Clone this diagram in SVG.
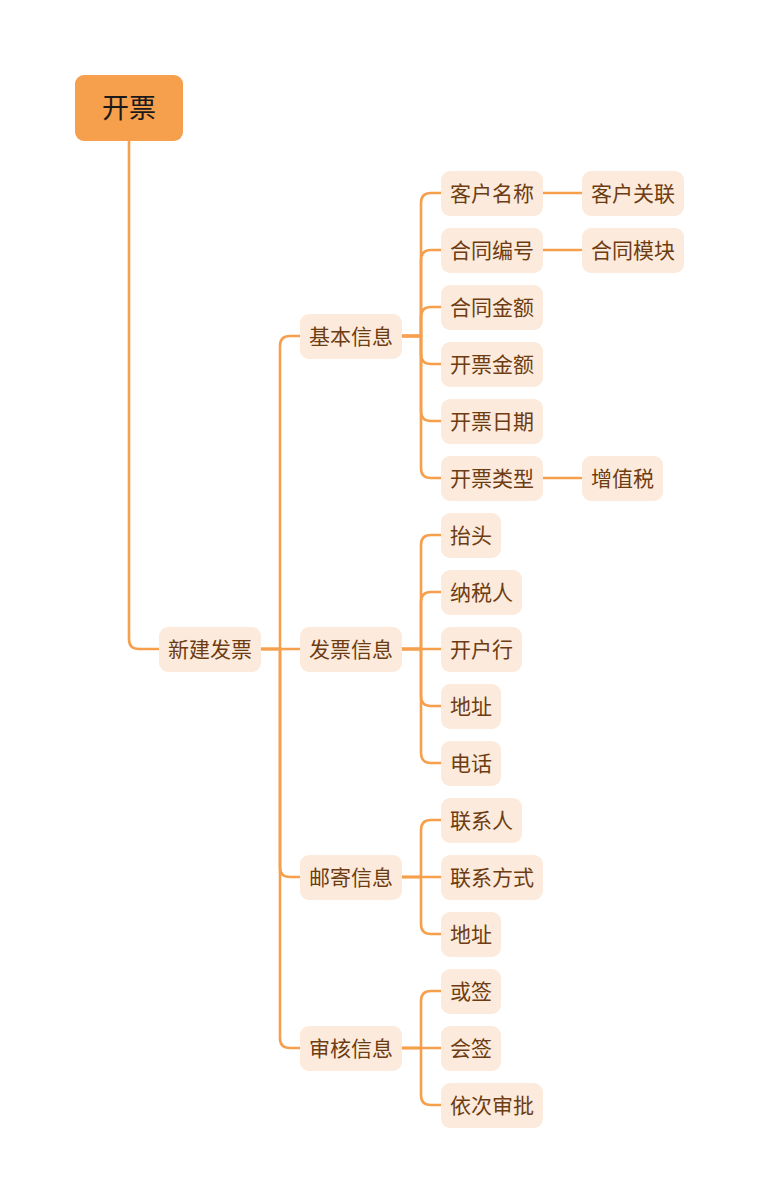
<svg xmlns="http://www.w3.org/2000/svg" width="759" height="1203" viewBox="0 0 759 1203">
<style>
.c{fill:none;stroke:#F69F4C;stroke-width:2.6;stroke-linecap:round;stroke-linejoin:round}
.n rect{fill:#FCEBDC}
.n text{fill:#6E3C12;font-family:"Noto Sans CJK SC","Noto Sans",sans-serif;font-size:21px;text-anchor:middle;dominant-baseline:central}
.r rect{fill:#F69F4C}
.r text{fill:#1A1A1A;font-family:"Noto Sans CJK SC","Noto Sans",sans-serif;font-size:27px;text-anchor:middle;dominant-baseline:central}
</style>
<rect width="759" height="1203" fill="#FFFFFF"/>
<g id="connectors">
<path class="c" d="M129,141 V639 Q129,649 139,649 H159"/>
<path class="c" d="M261,649 H280 V346 Q280,336 290,336 H300"/>
<path class="c" d="M261,649 H300"/>
<path class="c" d="M261,649 H280 V867 Q280,877 290,877 H300"/>
<path class="c" d="M261,649 H280 V1038 Q280,1048 290,1048 H300"/>
<path class="c" d="M402,336 H421 V203 Q421,193 431,193 H441"/>
<path class="c" d="M402,336 H421 V260 Q421,250 431,250 H441"/>
<path class="c" d="M402,336 H421 V317 Q421,307 431,307 H441"/>
<path class="c" d="M402,336 H421 V354 Q421,364 431,364 H441"/>
<path class="c" d="M402,336 H421 V411 Q421,421 431,421 H441"/>
<path class="c" d="M402,336 H421 V468 Q421,478 431,478 H441"/>
<path class="c" d="M543,193 H582"/>
<path class="c" d="M543,250 H582"/>
<path class="c" d="M543,478 H582"/>
<path class="c" d="M402,649 H421 V545 Q421,535 431,535 H441"/>
<path class="c" d="M402,649 H421 V602 Q421,592 431,592 H441"/>
<path class="c" d="M402,649 H441"/>
<path class="c" d="M402,649 H421 V696 Q421,706 431,706 H441"/>
<path class="c" d="M402,649 H421 V753 Q421,763 431,763 H441"/>
<path class="c" d="M402,877 H421 V830 Q421,820 431,820 H441"/>
<path class="c" d="M402,877 H441"/>
<path class="c" d="M402,877 H421 V924 Q421,934 431,934 H441"/>
<path class="c" d="M402,1048 H421 V1001 Q421,991 431,991 H441"/>
<path class="c" d="M402,1048 H441"/>
<path class="c" d="M402,1048 H421 V1095 Q421,1105 431,1105 H441"/>
</g>
<g id="root" class="r"><rect x="75" y="75" width="108" height="66" rx="9"/><text x="129" y="106">开票</text></g>
<g id="n-xjfp" class="n"><rect x="159" y="627" width="102" height="45" rx="9"/><text x="210" y="647.5">新建发票</text></g>
<g id="n-jbxx" class="n"><rect x="300" y="314" width="102" height="45" rx="9"/><text x="351" y="334.5">基本信息</text></g>
<g id="n-fpxx" class="n"><rect x="300" y="627" width="102" height="45" rx="9"/><text x="351" y="647.5">发票信息</text></g>
<g id="n-yjxx" class="n"><rect x="300" y="855" width="102" height="45" rx="9"/><text x="351" y="875.5">邮寄信息</text></g>
<g id="n-shxx" class="n"><rect x="300" y="1026" width="102" height="45" rx="9"/><text x="351" y="1046.5">审核信息</text></g>
<g id="n-khmc" class="n"><rect x="441" y="171" width="102" height="45" rx="9"/><text x="492" y="191.5">客户名称</text></g>
<g id="n-htbh" class="n"><rect x="441" y="228" width="102" height="45" rx="9"/><text x="492" y="248.5">合同编号</text></g>
<g id="n-htje" class="n"><rect x="441" y="285" width="102" height="45" rx="9"/><text x="492" y="305.5">合同金额</text></g>
<g id="n-kpje" class="n"><rect x="441" y="342" width="102" height="45" rx="9"/><text x="492" y="362.5">开票金额</text></g>
<g id="n-kprq" class="n"><rect x="441" y="399" width="102" height="45" rx="9"/><text x="492" y="419.5">开票日期</text></g>
<g id="n-kplx" class="n"><rect x="441" y="456" width="102" height="45" rx="9"/><text x="492" y="476.5">开票类型</text></g>
<g id="n-khgl" class="n"><rect x="582" y="171" width="102" height="45" rx="9"/><text x="633" y="191.5">客户关联</text></g>
<g id="n-htmk" class="n"><rect x="582" y="228" width="102" height="45" rx="9"/><text x="633" y="248.5">合同模块</text></g>
<g id="n-zzs" class="n"><rect x="582" y="456" width="81" height="45" rx="9"/><text x="622.5" y="476.5">增值税</text></g>
<g id="n-tt" class="n"><rect x="441" y="513" width="60" height="45" rx="9"/><text x="471" y="533.5">抬头</text></g>
<g id="n-nsr" class="n"><rect x="441" y="570" width="81" height="45" rx="9"/><text x="481.5" y="590.5">纳税人</text></g>
<g id="n-khh" class="n"><rect x="441" y="627" width="81" height="45" rx="9"/><text x="481.5" y="647.5">开户行</text></g>
<g id="n-dz1" class="n"><rect x="441" y="684" width="60" height="45" rx="9"/><text x="471" y="704.5">地址</text></g>
<g id="n-dh" class="n"><rect x="441" y="741" width="60" height="45" rx="9"/><text x="471" y="761.5">电话</text></g>
<g id="n-lxr" class="n"><rect x="441" y="798" width="81" height="45" rx="9"/><text x="481.5" y="818.5">联系人</text></g>
<g id="n-lxfs" class="n"><rect x="441" y="855" width="102" height="45" rx="9"/><text x="492" y="875.5">联系方式</text></g>
<g id="n-dz2" class="n"><rect x="441" y="912" width="60" height="45" rx="9"/><text x="471" y="932.5">地址</text></g>
<g id="n-hq" class="n"><rect x="441" y="969" width="60" height="45" rx="9"/><text x="471" y="989.5">或签</text></g>
<g id="n-hq2" class="n"><rect x="441" y="1026" width="60" height="45" rx="9"/><text x="471" y="1046.5">会签</text></g>
<g id="n-ycsp" class="n"><rect x="441" y="1083" width="102" height="45" rx="9"/><text x="492" y="1103.5">依次审批</text></g>
</svg>
